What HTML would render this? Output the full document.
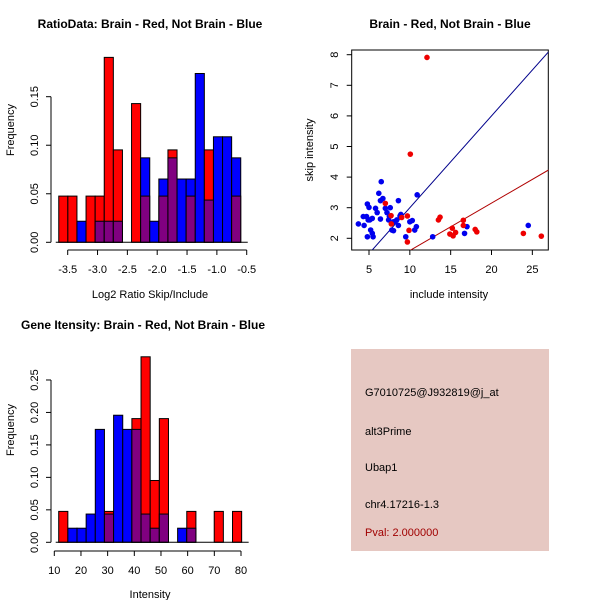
<!DOCTYPE html>
<html><head><meta charset="utf-8">
<style>
body{margin:0;background:#fff;}
svg{display:block;font-family:"Liberation Sans",sans-serif;}
</style></head>
<body>
<svg id="c" width="600" height="600" viewBox="0 0 600 600" xmlns="http://www.w3.org/2000/svg">
<rect x="0" y="0" width="600" height="600" fill="#fff"/>
<text x="150" y="28" text-anchor="middle" font-size="12" font-weight="bold">RatioData: Brain - Red, Not Brain - Blue</text>
<text x="450" y="28" text-anchor="middle" font-size="12" font-weight="bold">Brain - Red, Not Brain - Blue</text>
<text x="143" y="329" text-anchor="middle" font-size="12" font-weight="bold">Gene Itensity: Brain - Red, Not Brain - Blue</text>
<rect x="351" y="349" width="198" height="202" fill="#e6c8c2"/>
<text x="365" y="396" font-size="11">G7010725@J932819@j_at</text>
<text x="365" y="435" font-size="11">alt3Prime</text>
<text x="365" y="471" font-size="11">Ubap1</text>
<text x="365" y="508" font-size="11">chr4.17216-1.3</text>
<text x="365" y="536" font-size="11" fill="#a00000">Pval: 2.000000</text>
</svg>
<script>
// ---- Ratio histogram data ----
const ratioBreaks = [-3.65,-3.4975,-3.345,-3.1925,-3.04,-2.8875,-2.735,-2.5825,-2.43,-2.2775,-2.125,-1.9725,-1.82,-1.6675,-1.515,-1.3625,-1.21,-1.0575,-0.905,-0.7525,-0.6];
const ratioRed  = [0.0476,0.0476,0,0.0476,0.0476,0.1905,0.0952,0,0.1429,0.0476,0,0.0476,0.0952,0,0.0476,0,0.0952,0,0,0.0476];
const ratioBlue = [0,0,0.0217,0,0.0217,0.0217,0.0217,0,0,0.0870,0.0217,0.0652,0.0870,0.0652,0.0652,0.1739,0.0435,0.1087,0.1087,0.0870];
const ratioXTicks = [-3.5,-3.0,-2.5,-2.0,-1.5,-1.0,-0.5];
const ratioXLabels = ["-3.5","-3.0","-2.5","-2.0","-1.5","-1.0","-0.5"];
const ratioYTicks = [0,0.05,0.10,0.15];
const ratioYLabels = ["0.00","0.05","0.10","0.15"];
// ---- Intensity histogram data ----
const intBreaks = [11.65,15.08,18.51,21.94,25.37,28.8,32.23,35.66,39.09,42.52,45.95,49.38,52.81,56.24,59.67,63.1,66.53,69.96,73.39,76.82,80.25];
const intRed  = [0.0476,0,0,0,0,0.0476,0,0,0.1905,0.2857,0.0952,0.1905,0,0,0.0476,0,0,0.0476,0,0.0476];
const intBlue = [0,0.0217,0.0217,0.0435,0.1739,0.0435,0.1957,0.1739,0.1739,0.0435,0.0217,0.0435,0,0.0217,0.0217,0,0,0,0,0];
const intXTicks = [10,20,30,40,50,60,70,80];
const intYTicks = [0,0.05,0.10,0.15,0.20,0.25];
const intYLabels = ["0.00","0.05","0.10","0.15","0.20","0.25"];
// ---- Scatter data ----
const redX = [12.1,10.06,7.0,7.73,7.7,9.7,9.0,9.9,9.7,13.5,13.7,15.2,14.9,15.3,15.6,16.55,16.55,18.0,18.2,23.9,26.1];
const redY = [7.91,4.75,3.14,2.47,2.74,2.73,2.68,2.26,1.88,2.6,2.69,2.33,2.14,2.08,2.19,2.59,2.42,2.29,2.21,2.16,2.07];
const blueX = [3.7,4.3,4.4,4.7,4.8,5.0,4.9,5.1,5.4,4.8,5.2,5.4,5.5,5.8,6.0,6.2,6.5,6.4,6.7,6.4,7.0,7.2,7.5,7.6,7.4,7.8,8.0,8.2,8.4,8.6,8.6,8.8,9.5,10.0,10.3,10.6,10.8,10.9,12.8,16.7,17.0,24.5,8.0,8.9];
const blueY = [2.47,2.71,2.42,2.71,3.12,3.01,2.6,2.6,2.65,2.05,2.27,2.16,2.05,2.98,2.84,3.47,3.85,3.23,3.3,2.63,2.98,2.84,2.71,3.0,2.6,2.27,2.25,2.54,2.6,3.23,2.42,2.73,2.05,2.54,2.58,2.27,2.38,3.42,2.05,2.16,2.38,2.42,2.54,2.78];
const scatterXTicks = [5,10,15,20,25];
const scatterYTicks = [2,3,4,5,6,7,8];
const blueLine = [0, 0.3];   // intercept, slope
const redLine = [0.05, 0.155];

const svg = document.getElementById('c');
const NS = 'http://www.w3.org/2000/svg';
function el(tag, attrs, parent){
  const e = document.createElementNS(NS, tag);
  for (const k in attrs) e.setAttribute(k, attrs[k]);
  (parent||svg).appendChild(e);
  return e;
}
function txt(x,y,s,size,anchor,rot,parent){
  const t = el('text',{x:x,y:y,'font-size':size,'text-anchor':anchor||'middle'},parent);
  if (rot) t.setAttribute('transform','rotate(-90 '+x+' '+y+')');
  t.textContent = s;
  return t;
}

function histogram(name, breaks, red, blue, xs, ys, xTicks, xLabels, yTicks, yLabels, axisY, yLab, xTitle, xTitleY, xTickY){
  const g = el('g',{});
  
  
  for (let i=0;i<breaks.length-1;i++){
    const x0 = xs(breaks[i]), x1 = xs(breaks[i+1]);
    const mx = Math.max(red[i],blue[i]), mn = Math.min(red[i],blue[i]);
    if (mx>0){
      const b = el('rect',{x:x0,y:ys(mx),width:x1-x0,height:ys(0)-ys(mx),fill:red[i]>=blue[i]?'#ff0000':'#0000ff',stroke:'#000','stroke-width':1},g);
      
      
    }
    if (mn>0){
      const p = el('rect',{x:x0,y:ys(mn),width:x1-x0,height:ys(0)-ys(mn),fill:'#800080',stroke:'#000','stroke-width':1},g);
      
      
    }
  }
  // baseline
  el('line',{x1:xs(breaks[0])-3,x2:xs(breaks[breaks.length-1])+7,y1:ys(0),y2:ys(0),stroke:'#000'},g);
  // x axis
  const xa = el('g',{},g);
  
  
  el('line',{x1:xs(xTicks[0]),x2:xs(xTicks[xTicks.length-1]),y1:axisY,y2:axisY,stroke:'#000'},xa);
  xTicks.forEach((v,i)=>{
    el('line',{x1:xs(v),x2:xs(v),y1:axisY,y2:axisY+5,stroke:'#000'},xa);
    txt(xs(v),xTickY,xLabels[i],11,'middle',false,xa);
  });
  // y axis
  const ya = el('g',{},g);
  
  
  el('line',{x1:51,x2:51,y1:ys(yTicks[0]),y2:ys(yTicks[yTicks.length-1]),stroke:'#000'},ya);
  yTicks.forEach((v,i)=>{
    el('line',{x1:46,x2:51,y1:ys(v),y2:ys(v),stroke:'#000'},ya);
    txt(38,ys(v),yLabels[i],11,'middle',true,ya);
  });
  const yt = txt(14,yLab,'Frequency',11,'middle',true,g);
  
  
  const xt = txt(150,xTitleY,xTitle,11,'middle',false,g);
  
  
}

// Ratio histogram
const rxs = v => 67.7 + (v+3.5)*59.67;
const rys = v => 242.3 - v*970.7;
histogram('ratio-histogram', ratioBreaks, ratioRed, ratioBlue, rxs, rys, ratioXTicks, ratioXLabels, ratioYTicks, ratioYLabels, 250, 130, 'Log2 Ratio Skip/Include', 298, 273);

// Intensity histogram
const ixs = v => 54.3 + (v-10)*2.667;
const iys = v => 542.3 - v*649.3;
histogram('intensity-histogram', intBreaks, intRed, intBlue, ixs, iys, intXTicks, intXTicks.map(String), intYTicks, intYLabels, 551, 430, 'Intensity', 598, 574);

// Scatter
const sxs = v => 369 + (v-5)*8.167;
const sys = v => 238.3 - (v-2)*30.6;
const sg = el('g',{});


const defs = el('defs',{});
const cp = el('clipPath',{id:'sclip'},defs);
el('rect',{x:351.7,y:50,width:196.6,height:200},cp);
el('rect',{x:351.7,y:50,width:196.6,height:200,fill:'none',stroke:'#000'},sg);
const lines = el('g',{'clip-path':'url(#sclip)'},sg);
function regLine(p,color,name){
  const xa=0, xb=30;
  const l = el('line',{x1:sxs(xa),y1:sys(p[0]+p[1]*xa),x2:sxs(xb),y2:sys(p[0]+p[1]*xb),stroke:color,'stroke-width':1},lines);
  
  
}
regLine(blueLine,'#00008b','blue-fit-line');
regLine(redLine,'#b00000','red-fit-line');
blueX.forEach((x,i)=>{
  const c = el('circle',{cx:sxs(x),cy:sys(blueY[i]),r:2.8,fill:'#0000ee'},sg);
  
  
});
redX.forEach((x,i)=>{
  const c = el('circle',{cx:sxs(x),cy:sys(redY[i]),r:2.8,fill:'#ee0000'},sg);
  
  
});
const sxa = el('g',{},sg);


scatterXTicks.forEach(v=>{
  el('line',{x1:sxs(v),x2:sxs(v),y1:250,y2:255,stroke:'#000'},sxa);
  txt(sxs(v),273,String(v),11,'middle',false,sxa);
});
const sya = el('g',{},sg);


scatterYTicks.forEach(v=>{
  el('line',{x1:346.7,x2:351.7,y1:sys(v),y2:sys(v),stroke:'#000'},sya);
  txt(338,sys(v),String(v),11,'middle',true,sya);
});
const sxt = txt(449,298,'include intensity',11,'middle',false,sg);


const syt = txt(313,150,'skip intensity',11,'middle',true,sg);


</script>
</body></html>
